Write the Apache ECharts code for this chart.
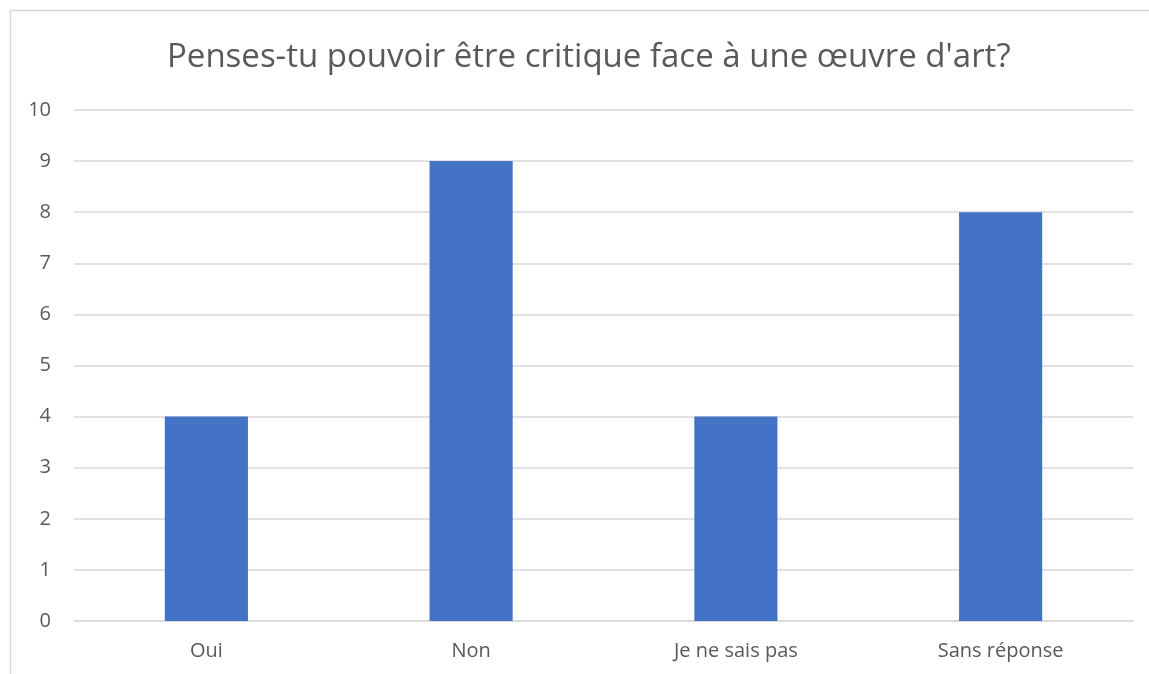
<!DOCTYPE html>
<html><head><meta charset="utf-8">
<script src="https://cdn.jsdelivr.net/npm/echarts@6/dist/echarts.min.js"></script>
<style>html,body{margin:0;padding:0;background:#fff}#c{width:1149px;height:674px}</style>
</head><body><div id="c"></div>
<script>
const categories = ["Oui", "Non", "Je ne sais pas", "Sans réponse"];
const values = [4, 9, 4, 8];
const titleText = "Penses-tu pouvoir être critique face à une œuvre d'art?";
const FONT = "'Open Sans', 'Noto Sans', sans-serif";
const chart = echarts.init(document.getElementById('c'), null, {renderer: 'canvas'});
chart.setOption({
  animation: false,
  backgroundColor: '#fff',
  graphic: [{type: 'rect', shape: {x: 10.5, y: 10.5, width: 1200, height: 800}, style: {fill: 'none', stroke: '#d9d9d9', lineWidth: 1.5}, z: -1}],
  title: {text: titleText, left: 162, top: 36, textStyle: {fontFamily: FONT, fontSize: 33, fontWeight: 'normal', color: '#595959'}},
  grid: {left: 74, right: 16, top: 110, bottom: 53, containLabel: false},
  xAxis: {type: 'category', data: categories,
    axisLine: {lineStyle: {color: '#d9d9d9', width: 1.5}}, axisTick: {show: false},
    axisLabel: {fontFamily: FONT, fontSize: 20, color: '#595959', margin: 20}},
  yAxis: {type: 'value', min: 0, max: 10, interval: 1,
    axisLine: {show: false}, axisTick: {show: false},
    splitLine: {lineStyle: {color: '#d9d9d9', width: 1.5}},
    axisLabel: {fontFamily: FONT, fontSize: 20, color: '#595959', margin: 23}},
  series: [{type: 'bar', data: values, barWidth: '31.4%', itemStyle: {color: '#4472c4'}}]
});
</script></body></html>
